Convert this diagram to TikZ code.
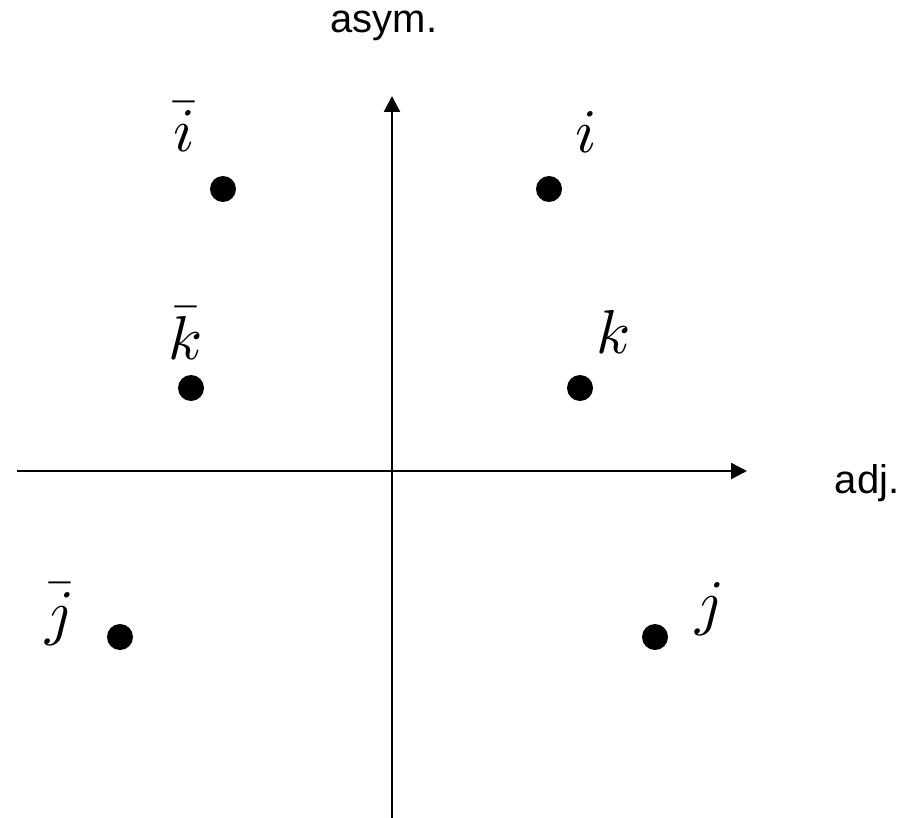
\documentclass[tikz,border=0pt]{standalone}
\usepackage{fontspec}
\newfontfamily\arialf{Liberation Sans}
\usetikzlibrary{arrows.meta}
\newcommand\mybigmath[1]{\scalebox{6.2}{$#1$}}
\tikzset{
  axis/.style={line width=2.5pt, -{Triangle[length=16pt,width=16pt]}},
  pt/.style={circle, fill=black, minimum size=26pt, inner sep=0pt},
  lab/.style={anchor=base, inner sep=0pt},
  axlab/.style={anchor=base, inner sep=0pt, font=\arialf\fontsize{40}{48}\selectfont}
}
\begin{document}
\begin{tikzpicture}[x=1pt,y=-1pt]
\useasboundingbox (0,0) rectangle (912,818);
\coordinate (xs) at (17,471);
\coordinate (xe) at (747,471);
\coordinate (ys) at (392,818);
\coordinate (ye) at (392,96);
\draw[axis] (xs) -- (xe);
\draw[axis] (ys) -- (ye);
\node[axlab] (asym) at (384,33) {asym.};
\node[axlab] (adj) at (867,493) {adj.};
\node[pt] (pi) at (549,189) {};
\node[pt] (pib) at (223,189) {};
\node[pt] (pk) at (580,388) {};
\node[pt] (pkb) at (191,388) {};
\node[pt] (pj) at (655,637) {};
\node[pt] (pjb) at (120,637) {};
\node[lab] (li) at (586,153) {\mybigmath{i}};
\node[lab] (lib) at (184,152) {\mybigmath{\bar{i}}};
\node[lab] (lk) at (614,353) {\mybigmath{k}};
\node[lab] (lkb) at (186,359) {\mybigmath{\bar{k}}};
\node[lab] (lj) at (710,623) {\mybigmath{j}};
\node[lab] (ljb) at (60,633) {\mybigmath{\bar{j}}};
\end{tikzpicture}
\end{document}
